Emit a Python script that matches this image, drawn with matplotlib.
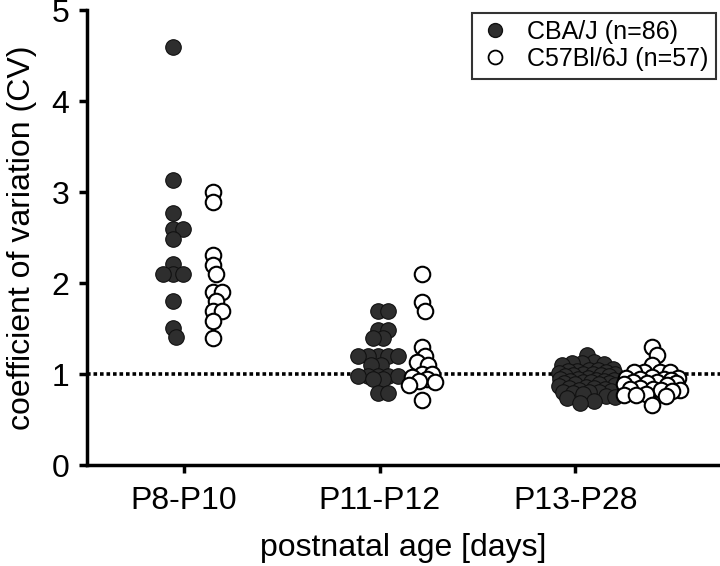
import numpy as np
import matplotlib
matplotlib.use("Agg")
import matplotlib.pyplot as plt
from matplotlib.lines import Line2D

plt.rcParams['font.family'] = ['Liberation Sans', 'DejaVu Sans']

# categories and values
groups = ['P8-P10', 'P11-P12', 'P13-P28']

cba_p8 = [4.60, 3.13, 2.77, 2.60, 2.60, 2.49, 2.21, 2.10, 2.10, 2.10, 1.80, 1.51, 1.41]
cba_p11 = [1.70, 1.70, 1.49, 1.49, 1.40, 1.40, 1.20, 1.20, 1.20, 1.20, 1.20,
           1.10, 1.10, 0.98, 0.98, 0.98, 0.98, 0.98, 0.95, 0.95, 0.79, 0.79]
cba_p13 = [1.21, 1.13, 1.12, 1.12, 1.11, 1.10, 1.06, 1.05, 1.05, 1.04, 1.04, 1.03,
           1.01, 1.00, 1.00, 1.00, 0.99, 0.99, 0.98, 0.98, 0.96, 0.95, 0.95, 0.94,
           0.94, 0.93, 0.93, 0.92, 0.91, 0.90, 0.90, 0.89, 0.89, 0.88, 0.87, 0.86,
           0.85, 0.85, 0.84, 0.83, 0.82, 0.81, 0.80, 0.80, 0.79, 0.78, 0.76, 0.75,
           0.74, 0.71, 0.68]

c57_p8 = [3.00, 2.89, 2.31, 2.20, 2.10, 1.90, 1.90, 1.80, 1.70, 1.70, 1.59, 1.40]
c57_p11 = [2.10, 1.79, 1.69, 1.30, 1.20, 1.13, 1.10, 1.00, 1.00, 0.97, 0.95,
           0.93, 0.91, 0.88, 0.72]
c57_p13 = [1.30, 1.21, 1.10, 1.03, 1.03, 1.02, 1.02, 0.97, 0.96, 0.96, 0.95,
           0.95, 0.94, 0.91, 0.91, 0.90, 0.90, 0.89, 0.88, 0.85, 0.84, 0.84,
           0.83, 0.83, 0.82, 0.78, 0.77, 0.77, 0.76, 0.66]

cba = [cba_p8, cba_p11, cba_p13]
c57 = [c57_p8, c57_p11, c57_p13]

fig = plt.figure(figsize=(7.2, 5.66), dpi=100)
ax = fig.add_axes([0.121, 0.178, 0.879, 0.804])
ax.set_xlim(-0.496, 2.74)
ax.set_ylim(0, 5)


def swarm(ax, vals, center, half_w, min_px=9.5):
    # beeswarm in display space, kept inside +-half_w pixels
    tr = ax.transData
    cx = tr.transform((center, 0))[0]
    cands = [cx]
    for k in range(1, int(half_w) + 1):
        cands += [cx + k, cx - k]
    placed = []
    out = []
    for v in sorted(vals, reverse=True):
        py = tr.transform((center, v))[1]
        best, best_d = cx, -1
        for px in cands:
            d = min([np.hypot(px - qx, py - qy) for qx, qy in placed] or [1e9])
            if d >= min_px:
                best = px
                break
            if d > best_d:
                best, best_d = px, d
        placed.append((best, py))
        out.append(tr.inverted().transform((best, py)))
    return np.array(out)


cba_off = [-0.056, -0.01, 0.06]
c57_off = [0.15, 0.215, 0.39]
cba_w = [12, 21, 28]
c57_w = [9, 13, 28]

for i in range(3):
    p = swarm(ax, cba[i], i + cba_off[i], cba_w[i])
    ax.scatter(p[:, 0], p[:, 1], s=125, facecolor='#2e2e2e', edgecolor='#111111',
               linewidth=0.8, zorder=3)
    p = swarm(ax, c57[i], i + c57_off[i], c57_w[i])
    ax.scatter(p[:, 0], p[:, 1], s=125, facecolor='white', edgecolor='black',
               linewidth=1.5, zorder=4)

ax.axhline(1, color='black', linestyle=(0, (1, 0.8)), linewidth=2.6, zorder=2)

for s in ['top', 'right']:
    ax.spines[s].set_visible(False)
for s in ['left', 'bottom']:
    ax.spines[s].set_linewidth(2.5)

ax.set_xticks(range(3))
ax.set_xticklabels(groups)
ax.set_yticks(range(6))
ax.tick_params(width=2.5, length=6, labelsize=23)
ax.tick_params(axis='x', pad=9)
ax.tick_params(axis='y', pad=7)
ax.set_ylabel('coefficient of variation (CV)', fontsize=23, labelpad=10)
ax.set_xlabel('postnatal age [days]', fontsize=23, labelpad=12)

handles = [
    Line2D([], [], marker='o', linestyle='none', markersize=10,
           markerfacecolor='#2e2e2e', markeredgecolor='#111111', label='CBA/J (n=86)'),
    Line2D([], [], marker='o', linestyle='none', markersize=10,
           markerfacecolor='white', markeredgecolor='black', markeredgewidth=1.3,
           label='C57Bl/6J (n=57)'),
]
leg = ax.legend(handles=handles, loc='upper right', bbox_to_anchor=(0.997, 1.0),
                fontsize=18, frameon=True, fancybox=False, handletextpad=0.6,
                borderpad=0.3, labelspacing=0.12, handlelength=1.3, borderaxespad=0.1)
leg.get_frame().set_edgecolor('black')
leg.get_frame().set_linewidth(1.5)

fig.savefig('out.png', dpi=100)
